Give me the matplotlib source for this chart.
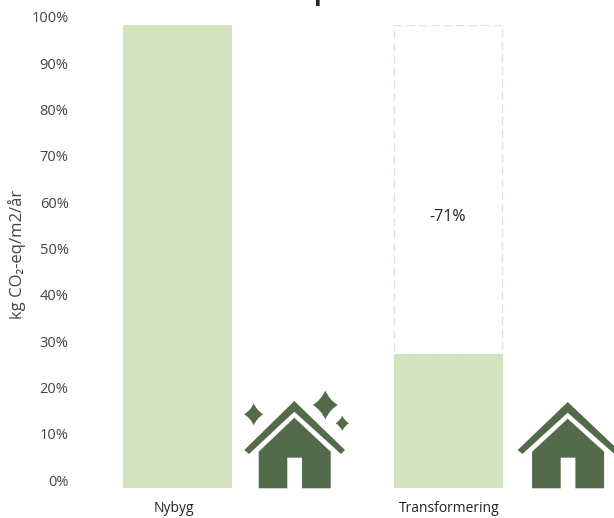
import matplotlib
matplotlib.use('Agg')
import matplotlib.pyplot as plt
from matplotlib.patches import PathPatch, Polygon
from matplotlib.path import Path
from matplotlib.transforms import ScaledTranslation

categories = ['Nybyg', 'Transformering']
remaining = [100, 29]
saved = [0, 71]
saved_label = '-71%'
yticks = [0, 10, 20, 30, 40, 50, 60, 70, 80, 90, 100]

W, H = 614, 518
plt.rcParams['font.family'] = ['Open Sans', 'DejaVu Sans']
green = '#D2E3BE'
dark = '#546B4B'

fig = plt.figure(figsize=(W / 100, H / 100), dpi=100)
ax = fig.add_axes([70 / W, (H - 488) / H, (W - 70) / W, 463 / H])

# bar centres at 177 and 448 px
px = 271.0
ax.set_xlim((70 - 177) / px, (W - 177) / px)
ax.set_ylim(0, 100)
bw = 108 / px
x = [0, 1]
ax.bar(x, remaining, width=bw, color=green, edgecolor='#C9E2C8', linewidth=0.6, zorder=2)
ax.bar(x[1], saved[1], bottom=remaining[1], width=bw, facecolor='white',
       edgecolor='#D5E8E0', linewidth=1, linestyle=(0, (6, 3)), zorder=1)
ax.text(x[1], remaining[1] + saved[1] * 0.415, saved_label, ha='center', va='center',
        fontsize=11.5, color='#222222')

for s in ax.spines.values():
    s.set_visible(False)
ax.set_yticks(yticks)
ax.set_yticklabels([f'{v}%' for v in yticks], fontsize=10.5, color='#444444')
ax.set_xticks(x)
ax.set_xticklabels(categories, fontsize=10, color='#222222')
ax.tick_params(length=0, axis='y', pad=1)
ax.tick_params(length=0, axis='x', pad=9)

# the tick labels sit 8 px above their positions in the original
for lab in ax.get_yticklabels():
    lab.set_transform(lab.get_transform() + ScaledTranslation(0, 8 / 100, fig.dpi_scale_trans))
labs = ax.get_xticklabels()
labs[0].set_transform(labs[0].get_transform() + ScaledTranslation(-3.5 / 100, 0, fig.dpi_scale_trans))
labs[1].set_transform(labs[1].get_transform() + ScaledTranslation(1.5 / 100, 0, fig.dpi_scale_trans))

fig.text(17 / W, 1 - 254 / H, 'kg CO\u2082-eq/m2/\u00e5r', rotation=90, ha='center', va='center',
         fontsize=12, color='#444444')

# cropped title, only a descender shows at the top edge
fig.text(322 / W, 1 + 0.5 / H, 'p', ha='center', va='baseline', fontsize=18,
         fontweight='bold', color='#222222')

# house icons drawn in pixel coordinates
ov = fig.add_axes([0, 0, 1, 1], facecolor='none')
ov.set_xlim(0, W)
ov.set_ylim(H, 0)
ov.axis('off')


def house(cx, top=401.0):
    roof = [(cx, top), (cx + 50.7, 450), (cx + 46.7, 454), (cx, top + 10.7),
            (cx - 45.3, 454), (cx - 50, 450)]
    body = [(cx, top + 16.7), (cx + 36.4, 451.7), (cx + 36.4, 488.3), (cx + 7.7, 488.3),
            (cx + 7.7, 457.7), (cx - 7, 457.7), (cx - 7, 488.3), (cx - 35.6, 488.3),
            (cx - 35.6, 451.7)]
    ov.add_patch(Polygon(roof, closed=True, fc=dark, ec='none'))
    ov.add_patch(Polygon(body, closed=True, fc=dark, ec='none'))


def sparkle(cx, cy, hw, hh):
    k = 0.34
    verts = [(cx, cy - hh), (cx + hw * k, cy - hh * k), (cx + hw, cy),
             (cx + hw * k, cy + hh * k), (cx, cy + hh),
             (cx - hw * k, cy + hh * k), (cx - hw, cy),
             (cx - hw * k, cy - hh * k), (cx, cy - hh)]
    codes = [Path.MOVETO] + [Path.CURVE3] * 8
    ov.add_patch(PathPatch(Path(verts, codes), fc=dark, ec='none'))


house(294.3)
house(567.7, 402)
sparkle(325.3, 405, 12.5, 14.5)
sparkle(253.7, 414.3, 9.5, 11)
sparkle(342.3, 423.3, 6.7, 7.5)

fig.savefig('out.png', dpi=100)
